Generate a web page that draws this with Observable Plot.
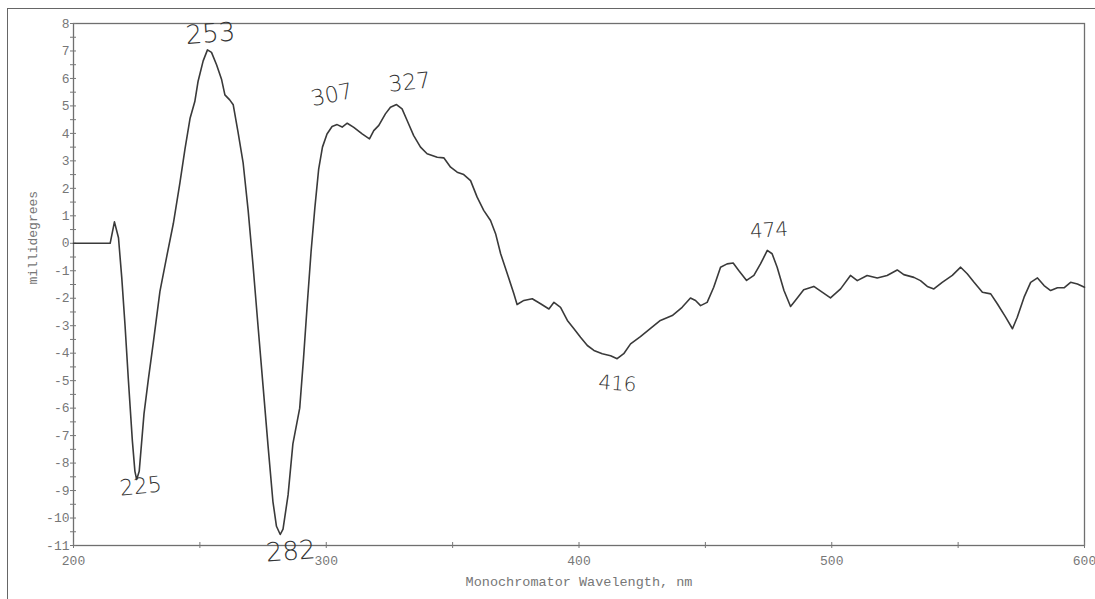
<!DOCTYPE html>
<html>
<head>
<meta charset="utf-8">
<script src="https://cdn.jsdelivr.net/npm/d3@7"></script>
<script src="https://cdn.jsdelivr.net/npm/@observablehq/plot@0.6"></script>
<style>
  html, body { margin: 0; padding: 0; background: #fff; }
  #page { position: relative; width: 1095px; height: 599px; overflow: hidden; }
  #sheet { position: absolute; left: 7px; top: 8px; right: -10px; bottom: -10px;
           border-top: 1.5px solid #666; border-left: 1.5px solid #666; }
  #chart { position: absolute; left: 0; top: 0; }
</style>
</head>
<body>
<div id="page"><div id="sheet"></div><div id="chart"></div></div>
<script>
// CD spectrum: wavelength (nm) and ellipticity (millidegrees)
const wavelengths = [
  200, 214.5, 216.2, 217.8, 219.1, 220.4, 221.7, 223.3, 224.3, 225, 226, 227.9, 229.6, 231.6,
  234.2, 236.8, 239.5, 242.1, 244.1, 246.1, 248, 249.3, 251.3, 253, 254.6, 256.6, 258.6, 259.9,
  261.8, 263.2, 265.1, 267.1, 269.1, 271, 273, 275, 277, 278.9, 280.3, 281.8, 282.9, 284.9,
  286.8, 289.5, 291, 292.5, 294, 295.5, 297, 298.5, 300.3, 302.3, 304.3, 306.3, 308.3, 310.9,
  314.2, 317.1, 318.8, 320.8, 323.4, 325.4, 327.8, 330, 332, 334.6, 337.3, 339.9, 343.9, 346.5,
  349.2, 351.8, 354.4, 357.1, 359.7, 362.3, 365, 367, 369, 371.6, 374.2, 375.5, 378.2, 381.5,
  384.8, 388.1, 390.1, 392.7, 395.4, 398, 400.6, 403.3, 405.9, 409.2, 412.5, 415.1, 417.7, 420.4,
  424.3, 428.3, 432.2, 436.9, 440.8, 444.1, 446.1, 448.1, 450.7, 453.3, 456, 458.6, 461, 463.2,
  466.3, 469.2, 471.8, 474.5, 476.4, 478.4, 481.1, 483.7, 485.6, 488.9, 492.9, 496.2, 499.5,
  503.5, 507.4, 510.1, 514, 518, 521.9, 525.9, 528.5, 532.5, 535.1, 537.8, 540.4, 543.7, 547.7,
  551, 553.6, 556.3, 559.6, 562.9, 565.5, 568.8, 571.5, 573.4, 576.1, 578.7, 581.4, 584, 586.6,
  589.3, 591.9, 594.5, 597.2, 600
];
const millidegrees = [
  0, 0, 0.78, 0.2, -1.26, -3.0, -4.96, -7.2, -8.3, -8.6, -8.3, -6.2, -4.96, -3.6,
  -1.75, -0.52, 0.72, 2.2, 3.43, 4.54, 5.16, 5.9, 6.64, 7.04, 6.95, 6.5, 5.96, 5.4,
  5.22, 5.04, 4.05, 2.94, 1.2, -0.77, -3.0, -5.2, -7.4, -9.4, -10.3, -10.6, -10.4, -9.16,
  -7.3, -6.0, -4.2, -2.2, -0.3, 1.3, 2.7, 3.5, 3.98, 4.25, 4.32, 4.23, 4.37, 4.22,
  3.98, 3.8, 4.1, 4.29, 4.71, 4.95, 5.05, 4.89, 4.47, 3.92, 3.5, 3.26, 3.13, 3.11,
  2.77, 2.59, 2.5, 2.28, 1.68, 1.2, 0.83, 0.35, -0.38, -1.1, -1.83, -2.23, -2.08, -2.02,
  -2.2, -2.39, -2.15, -2.33, -2.81, -3.11, -3.42, -3.72, -3.9, -4.02, -4.09, -4.2, -4.02, -3.66,
  -3.4, -3.1, -2.81, -2.63, -2.33, -1.99, -2.08, -2.27, -2.15, -1.6, -0.87, -0.75, -0.72, -0.99,
  -1.35, -1.17, -0.75, -0.26, -0.38, -0.87, -1.72, -2.3, -2.08, -1.69, -1.57, -1.78, -1.99,
  -1.66, -1.17, -1.36, -1.17, -1.26, -1.17, -0.97, -1.14, -1.24, -1.36, -1.57, -1.66, -1.42, -1.17,
  -0.87, -1.11, -1.42, -1.78, -1.84, -2.2, -2.69, -3.11, -2.69, -1.96, -1.42, -1.26, -1.54, -1.72,
  -1.62, -1.62, -1.42, -1.48, -1.6
];

// Axis ticks
const xTickLabels = [200, 300, 400, 500, 600];
const xTicks = [200, 250, 300, 350, 400, 450, 500, 550, 600];
const yTickLabels = [8, 7, 6, 5, 4, 3, 2, 1, 0, -1, -2, -3, -4, -5, -6, -7, -8, -9, -10, -11];
const yTicks = d3.range(-11, 8.01, 0.5);

// Hand-marked band positions (nm)
const bandLabels = ["253", "225", "282", "307", "327", "416", "474"];

// nearest measured value for a wavelength
function valueAt(nm) {
  let best = 0;
  for (let i = 1; i < wavelengths.length; i++) {
    if (Math.abs(wavelengths[i] - nm) < Math.abs(wavelengths[best] - nm)) best = i;
  }
  return millidegrees[best];
}

const bands = bandLabels.map(label => ({label, nm: +label, mdeg: valueAt(+label)}));

// placement of each handwritten note relative to its band
const noteStyle = {
  "253": {dx: 3, dy: -16, size: 26, rotate: -4},
  "225": {dx: 4, dy: 7, size: 22, rotate: -6},
  "282": {dx: 10, dy: 17, size: 26, rotate: -4},
  "307": {dx: -12, dy: -32, size: 22, rotate: -12},
  "327": {dx: 15, dy: -22, size: 22, rotate: -6},
  "416": {dx: -2, dy: 25, size: 20, rotate: 4},
  "474": {dx: 3, dy: -20, size: 20, rotate: -4}
};

const mono = "'Liberation Mono', 'DejaVu Sans Mono', monospace";

const chart = Plot.plot({
  width: 1095,
  height: 599,
  marginLeft: 73,
  marginRight: 11,
  marginTop: 23,
  marginBottom: 54,
  x: {domain: [200, 600]},
  y: {domain: [-11, 8]},
  style: {fontFamily: mono, fontSize: "13px", color: "#777", background: "transparent", overflow: "visible"},
  marks: [
    Plot.frame({stroke: "#6f6f6f", strokeWidth: 1.3}),
    // tick marks straddle the axis lines
    Plot.axisY({ticks: yTicks, anchor: "left", tickSize: 6, dx: 3, tickFormat: () => "", label: null, stroke: "#777"}),
    Plot.axisY({ticks: yTickLabels, anchor: "left", tickSize: 0, tickPadding: 4, label: null,
      tickFormat: d => String(d), fill: "#777", fontFamily: mono, fontSize: 13}),
    Plot.axisX({ticks: xTicks, anchor: "bottom", tickSize: 6, dy: -3, tickFormat: () => "", label: null, stroke: "#777"}),
    Plot.axisX({ticks: xTickLabels, anchor: "bottom", tickSize: 0, tickPadding: 10, label: null,
      tickFormat: d => String(d), fill: "#777", fontFamily: mono, fontSize: 13}),
    Plot.line(millidegrees, {x: wavelengths, y: millidegrees, stroke: "#3a3a3a", strokeWidth: 1.6, curve: "linear"}),
    ...bands.map(b => {
      const s = noteStyle[b.label];
      return Plot.text([b], {
        x: "nm", y: "mdeg", text: "label",
        dx: s.dx, dy: s.dy, rotate: s.rotate,
        fontSize: s.size, fill: "#333",
        fontFamily: "'DejaVu Sans', sans-serif", fontWeight: 300
      });
    }),
    Plot.text(["millidegrees"], {
      frameAnchor: "left", dx: -41, rotate: -90, fill: "#777",
      fontFamily: mono, fontSize: 13
    }),
    Plot.text(["Monochromator Wavelength, nm"], {
      frameAnchor: "bottom", dy: 40, fill: "#777",
      fontFamily: mono, fontSize: 13.5
    })
  ]
});

document.getElementById("chart").appendChild(chart);
</script>
</body>
</html>
